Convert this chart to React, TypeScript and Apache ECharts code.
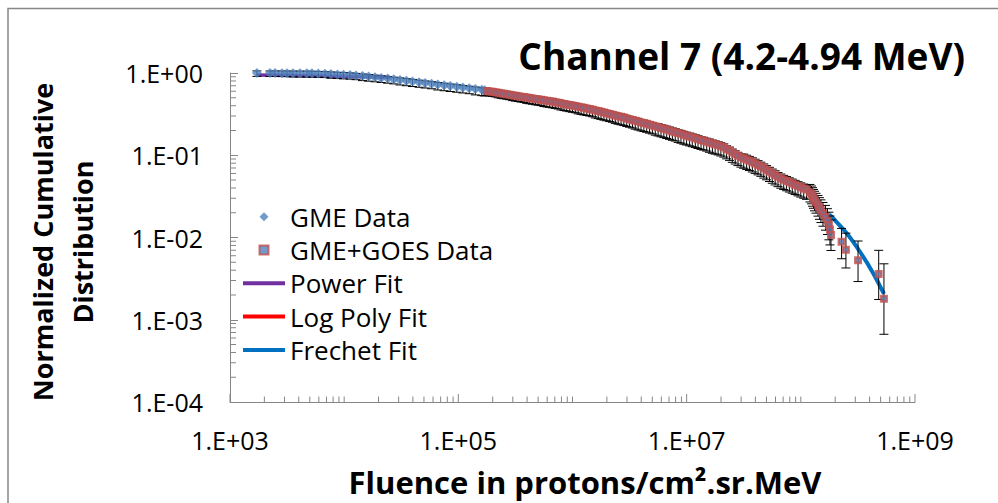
import React, { useEffect, useRef } from "react";
import * as echarts from "echarts";

// ---------- data ----------
const gmeFluence = [
  1720, 2240, 2480, 2850, 3160, 3560, 4100, 4720, 5220, 5940, 6790, 7650, 8730, 9870,
  11250, 12700, 14480, 16380, 18650, 21100, 24050, 27200, 30850, 35100, 39700, 45300,
  51200, 58300, 66000, 75100, 85000, 96800, 109500, 124700, 141000, 160500, 170000,
];
const gmeCumulative = [
  1.0, 0.998, 0.997, 0.996, 0.995, 0.994, 0.993, 0.992, 0.99, 0.986, 0.978, 0.97, 0.962, 0.954,
  0.946, 0.932, 0.918, 0.904, 0.888, 0.871, 0.855, 0.838, 0.822, 0.805, 0.788, 0.771,
  0.755, 0.739, 0.723, 0.708, 0.693, 0.679, 0.665, 0.651, 0.637, 0.624, 0.618,
];
const gmeErrLowPct = [
  9, 9, 9, 9, 9, 10, 10, 10, 10, 10, 10, 11, 11, 11, 11, 11, 12, 12, 12, 12, 12, 12, 13, 13, 13,
  13, 13, 13, 14, 14, 14, 14, 14, 14, 15, 15, 15,
];
const gmeErrHighPct = [
  6, 6, 6, 6, 6, 6, 6, 6, 6, 6, 6, 6, 6, 6, 6, 6, 6, 6, 6, 6, 6, 6, 6, 6, 6, 6, 6, 6, 6, 6, 6, 6,
  6, 6, 6, 6, 6,
];

const goesFluence = [
  177800, 188900, 199100, 211800, 223500, 237600, 250700, 266500, 281300, 299000,
  315800, 335400, 354300, 376300, 397600, 422200, 446200, 473700, 500600, 531400,
  561800, 596200, 630400, 668900, 707400, 750500, 793600, 842100, 890500, 944800,
  999000, 1.06e6, 1.121e6, 1.19e6, 1.258e6, 1.335e6, 1.412e6, 1.497e6, 1.584e6, 1.68e6,
  1.777e6, 1.885e6, 1.994e6, 2.115e6, 2.238e6, 2.372e6, 2.511e6, 2.662e6, 2.817e6, 2.986e6,
  3.161e6, 3.351e6, 3.547e6, 3.759e6, 3.98e6, 4.218e6, 4.466e6, 4.733e6, 5.011e6, 5.31e6,
  5.622e6, 5.958e6, 6.309e6, 6.684e6, 7.079e6, 7.5e6, 7.942e6, 8.415e6, 8.912e6, 9.442e6,
  9.985e6, 1.061e7, 1.12e7, 1.191e7, 1.257e7, 1.336e7, 1.411e7, 1.498e7, 1.583e7, 1.681e7,
  1.776e7, 1.886e7, 1.993e7, 2.116e7, 2.237e7, 2.373e7, 2.51e7, 2.663e7, 2.816e7, 2.987e7,
  3.16e7, 3.352e7, 3.546e7, 3.76e7, 3.979e7, 4.219e7, 4.465e7, 4.734e7, 5.01e7, 5.311e7,
  5.621e7, 5.959e7, 6.308e7, 6.685e7, 7.078e7, 7.501e7, 7.941e7, 8.416e7, 8.911e7, 9.443e7,
  9.99e7, 1.06e8, 1.121e8,
  1.202e8, 1.239e8, 1.265e8, 1.291e8, 1.318e8, 1.358e8, 1.413e8, 1.455e8, 1.5e8, 1.563e8,
  1.644e8, 1.71e8, 1.762e8, 1.799e8, 1.837e8, 2.275e8, 2.483e8, 3.17e8, 4.808e8, 5.346e8,
];
const goesCumulative = [
  0.606, 0.597, 0.59, 0.582, 0.574, 0.566, 0.559, 0.552, 0.544, 0.537,
  0.53, 0.523, 0.516, 0.51, 0.503, 0.497, 0.491, 0.484, 0.478, 0.472,
  0.466, 0.46, 0.455, 0.449, 0.442, 0.435, 0.428, 0.421, 0.415, 0.408,
  0.402, 0.396, 0.389, 0.383, 0.377, 0.371, 0.366, 0.358, 0.351, 0.344,
  0.337, 0.33, 0.324, 0.317, 0.311, 0.305, 0.298, 0.293, 0.287, 0.28,
  0.274, 0.268, 0.263, 0.257, 0.251, 0.246, 0.241, 0.235, 0.23, 0.225,
  0.22, 0.215, 0.21, 0.205, 0.2, 0.195, 0.191, 0.186, 0.182, 0.177,
  0.173, 0.169, 0.165, 0.161, 0.157, 0.153, 0.15, 0.146, 0.143, 0.139,
  0.136, 0.133, 0.129, 0.125, 0.119, 0.114, 0.108, 0.103, 0.0985, 0.0943,
  0.0914, 0.0885, 0.0857, 0.0824, 0.0792, 0.076, 0.0729, 0.0694, 0.0662, 0.0631,
  0.0601, 0.0573, 0.0546, 0.0523, 0.0504, 0.0487, 0.047, 0.0454, 0.0438, 0.0422,
  0.0408, 0.0395, 0.0383,
  0.0356, 0.0338, 0.032, 0.0302, 0.0285, 0.0267, 0.0249, 0.0231, 0.0214, 0.0196,
  0.0178, 0.016, 0.0142, 0.0125, 0.0107, 0.0089, 0.0071, 0.0053, 0.0036, 0.0018,
];
const goesErrLowPct = [
  12, 12, 12, 12, 13, 13, 13, 13, 13, 14,
  14, 14, 14, 14, 15, 15, 15, 15, 15, 15,
  16, 16, 16, 16, 16, 16, 17, 17, 17, 17,
  17, 17, 18, 18, 18, 18, 18, 18, 19, 19,
  19, 19, 19, 19, 19, 20, 20, 20, 20, 20,
  20, 20, 21, 21, 21, 21, 21, 21, 21, 22,
  22, 22, 22, 22, 22, 22, 22, 23, 23, 23,
  23, 23, 23, 23, 23, 23, 23, 23, 24, 24,
  24, 24, 24, 24, 24, 24, 24, 24, 24, 24,
  24, 24, 24, 24, 24, 24, 24, 24, 24, 24,
  24, 24, 24, 24, 24, 24, 24, 24, 24, 24,
  24, 24, 24,
  24, 24, 25, 25, 26, 26, 27, 28, 29, 30, 31, 32, 34, 35, 35, 38, 40, 45, 51, 63,
];
const goesErrHighPct = [
  8, 8, 8, 8, 8, 8, 8, 8, 8, 8,
  8, 8, 8, 8, 8, 8, 8, 8, 8, 8,
  8, 8, 8, 8, 8, 8, 8, 8, 8, 8,
  8, 8, 8, 8, 8, 8, 8, 8, 8, 8,
  8, 8, 8, 8, 8, 8, 8, 8, 8, 8,
  8, 8, 8, 8, 8, 8, 8, 8, 8, 8,
  10, 10, 10, 10, 10, 10, 10, 10, 10, 10,
  10, 10, 10, 10, 10, 10, 10, 10, 10, 10,
  10, 10, 10, 10, 10, 10, 10, 10, 10, 10,
  13, 13, 13, 13, 13, 13, 13, 13, 13, 13,
  13, 13, 13, 13, 13, 13, 13, 13, 13, 13,
  13, 13, 13,
  24, 25, 26, 27, 28, 29, 30, 32, 34, 36, 38, 40, 43, 46, 53, 45, 59, 71, 94, 166,
];

const powerFitX = [1720, 25000];
const powerFitY = [0.946, 0.89];
const logPolyFitX = [1.8e5, 5.6e5, 1.78e6, 5.6e6, 1.78e7, 3.55e7, 6.3e7, 1.0e8, 1.25e8];
const logPolyFitY = [0.604, 0.467, 0.337, 0.22, 0.136, 0.083, 0.0547, 0.0408, 0.0345];
const frechetFitX = [1.778e8, 1.923e8, 2.523e8, 3.296e8, 4.315e8, 5.346e8];
const frechetFitY = [0.019, 0.0171, 0.01125, 0.00671, 0.00366, 0.00206];

const xAxisRange = [1e3, 1e9];
const yAxisRange = [1e-4, 1];
const xLabelledTicks = [1e3, 1e5, 1e7, 1e9];
const xMinorTickValues = [
  2e3, 3e3, 4e3, 5e3, 6e3, 7e3, 8e3, 9e3, 1e4,
  2e4, 3e4, 4e4, 5e4, 6e4, 7e4, 8e4, 9e4,
  2e5, 3e5, 4e5, 5e5, 6e5, 7e5, 8e5, 9e5, 1e6,
  2e6, 3e6, 4e6, 5e6, 6e6, 7e6, 8e6, 9e6,
  2e7, 3e7, 4e7, 5e7, 6e7, 7e7, 8e7, 9e7, 1e8,
  2e8, 3e8, 4e8, 5e8, 6e8, 7e8, 8e8, 9e8,
];
const yMinorTickValues = [
  2e-4, 3e-4, 4e-4, 5e-4, 6e-4, 7e-4, 8e-4, 9e-4,
  2e-3, 3e-3, 4e-3, 5e-3, 6e-3, 7e-3, 8e-3, 9e-3,
  0.02, 0.03, 0.04, 0.05, 0.06, 0.07, 0.08, 0.09,
  0.2, 0.3, 0.4, 0.5, 0.6, 0.7, 0.8, 0.9,
];

const FONT = '"Open Sans", "Liberation Sans", sans-serif';
const AXIS_GRAY = "#868686";

function expLabel(v: number): string {
  const e = Math.round(Math.log10(v));
  const sign = e < 0 ? "-" : "+";
  const a = Math.abs(e);
  return "1.E" + sign + (a < 10 ? "0" + a : String(a));
}
function xExpLabel(v: number): string {
  const e = Math.round(Math.log10(v));
  return e % 2 === 0 ? "" : expLabel(v);
}

export default function App() {
  const ref = useRef<HTMLDivElement>(null);

  useEffect(() => {
    const chart = echarts.init(ref.current as HTMLDivElement, null, { renderer: "svg" });
    const zip = (xs: number[], ys: number[]) => xs.map((x, i) => [x, ys[i]]);
    const errData = (xs: number[], ys: number[], lo: number[], hi: number[]) =>
      xs.map((x, i) => [x, ys[i], ys[i] * (1 - (lo[i] ?? 15) / 100), ys[i] * (1 + (hi[i] ?? 8) / 100)]);

    const renderErr = (_p: any, api: any) => {
      const x = api.value(0);
      const a = api.coord([x, api.value(2)]);
      const b = api.coord([x, api.value(3)]);
      const w = 4.5;
      const st = { stroke: "#000", lineWidth: 1 };
      return {
        type: "group",
        children: [
          { type: "line", shape: { x1: a[0], y1: a[1], x2: b[0], y2: b[1] }, style: st },
          { type: "line", shape: { x1: a[0] - w, y1: a[1], x2: a[0] + w, y2: a[1] }, style: st },
          { type: "line", shape: { x1: b[0] - w, y1: b[1], x2: b[0] + w, y2: b[1] }, style: st },
        ],
      };
    };
    const renderXTick = (_p: any, api: any) => {
      const pt = api.coord([api.value(0), api.value(1)]);
      const len = api.value(2);
      return {
        type: "line",
        shape: { x1: pt[0], y1: pt[1], x2: pt[0], y2: pt[1] - len },
        style: { stroke: AXIS_GRAY, lineWidth: 1 },
      };
    };
    const renderYMinor = (_p: any, api: any) => {
      const pt = api.coord([api.value(0), api.value(1)]);
      return {
        type: "line",
        shape: { x1: pt[0], y1: pt[1], x2: pt[0] + 6, y2: pt[1] },
        style: { stroke: AXIS_GRAY, lineWidth: 1 },
      };
    };

    const option: any = {
      animation: false,
      backgroundColor: "#fff",
      title: {
        text: "Channel 7 (4.2-4.94 MeV)",
        right: 33,
        top: 33,
        padding: 0,
        textStyle: { fontFamily: FONT, fontWeight: "bold", fontSize: 37, color: "#000", lineHeight: 44 },
      },
      legend: {
        orient: "vertical",
        left: 243,
        top: 203.7,
        padding: 0,
        itemWidth: 42,
        itemHeight: 9,
        itemGap: 7.3,
        selectedMode: false,
        symbolKeepAspect: true,
        textStyle: { fontFamily: FONT, fontSize: 26, color: "#000", lineHeight: 26 },
        data: [
          { name: "GME Data", icon: "path://M4,0L8,4L4,8L0,4Z" },
          { name: "GME+GOES Data", icon: "path://M0,0H8V8H0Z" },
          { name: "Power Fit", icon: "path://M0,0H42V4H0Z" },
          { name: "Log Poly Fit", icon: "path://M0,0H42V4H0Z" },
          { name: "Frechet Fit", icon: "path://M0,0H42V4H0Z" },
        ],
      },
      grid: { left: 230, right: 83, top: 73, bottom: 101 },
      xAxis: {
        type: "log",
        logBase: 10,
        min: xAxisRange[0],
        max: xAxisRange[1],
        splitNumber: 6,
        axisLine: { show: true, lineStyle: { color: AXIS_GRAY, width: 1 } },
        axisTick: { show: false },
        axisLabel: { formatter: xExpLabel, color: "#000", fontFamily: FONT, fontSize: 25, margin: 25 },
        splitLine: { show: false },
      },
      yAxis: {
        type: "log",
        logBase: 10,
        min: yAxisRange[0],
        max: yAxisRange[1],
        splitNumber: 4,
        axisLine: { show: true, lineStyle: { color: AXIS_GRAY, width: 1 } },
        axisTick: { show: true, inside: true, length: 8, lineStyle: { color: AXIS_GRAY } },
        axisLabel: { formatter: expLabel, color: "#000", fontFamily: FONT, fontSize: 25, margin: 27 },
        splitLine: { show: false },
      },
      graphic: [
        {
          type: "rect",
          silent: true,
          shape: { x: 8, y: 8.5, width: 1200, height: 800 },
          style: { fill: "rgba(0,0,0,0)", stroke: AXIS_GRAY, lineWidth: 1.5 },
        },
        {
          type: "text",
          x: 62,
          y: 242,
          rotation: Math.PI / 2,
          style: {
            text: "Normalized Cumulative\nDistribution",
            fontFamily: FONT,
            fontWeight: "bold",
            fontSize: 27,
            lineHeight: 40,
            align: "center",
            verticalAlign: "middle",
            fill: "#000",
          },
        },
        {
          type: "text",
          x: 585,
          y: 482,
          style: {
            text: "Fluence in protons/cm\u00B2.sr.MeV",
            fontFamily: FONT,
            fontWeight: "bold",
            fontSize: 31,
            align: "center",
            verticalAlign: "middle",
            fill: "#000",
          },
        },
      ],
      series: [
        {
          name: "xTicks",
          type: "custom",
          silent: true,
          renderItem: renderXTick,
          data: xLabelledTicks
            .map((v) => [v, yAxisRange[0], 8])
            .concat(xMinorTickValues.map((v) => [v, yAxisRange[0], 5.5])),
          z: 1,
        },
        {
          name: "yMinorTicks",
          type: "custom",
          silent: true,
          renderItem: renderYMinor,
          data: yMinorTickValues.map((v) => [xAxisRange[0], v]),
          z: 1,
        },
        {
          name: "Power Fit",
          type: "line",
          data: zip(powerFitX, powerFitY),
          showSymbol: false,
          symbol: "none",
          lineStyle: { color: "#7030A0", width: 3.5 },
          itemStyle: { color: "#7030A0" },
          z: 2,
        },
        {
          name: "Log Poly Fit",
          type: "line",
          smooth: 0.3,
          data: zip(logPolyFitX, logPolyFitY),
          showSymbol: false,
          symbol: "none",
          lineStyle: { color: "#FF0000", width: 3.5 },
          itemStyle: { color: "#FF0000" },
          z: 2,
        },
        {
          name: "Frechet Fit",
          type: "line",
          smooth: 0.3,
          data: zip(frechetFitX, frechetFitY),
          showSymbol: false,
          symbol: "none",
          lineStyle: { color: "#0070C0", width: 4 },
          itemStyle: { color: "#0070C0" },
          z: 2,
        },
        {
          name: "gmeErr",
          type: "custom",
          silent: true,
          renderItem: renderErr,
          encode: { x: 0, y: 1 },
          data: errData(gmeFluence, gmeCumulative, gmeErrLowPct, gmeErrHighPct),
          z: 3,
        },
        {
          name: "goesErr",
          type: "custom",
          silent: true,
          renderItem: renderErr,
          encode: { x: 0, y: 1 },
          data: errData(goesFluence, goesCumulative, goesErrLowPct, goesErrHighPct),
          z: 3,
        },
        {
          name: "GME Data",
          type: "scatter",
          symbol: "diamond",
          symbolSize: 10,
          itemStyle: { color: "#4F81BD" },
          data: zip(gmeFluence, gmeCumulative),
          z: 4,
        },
        {
          name: "GME+GOES Data",
          type: "scatter",
          symbol: "rect",
          symbolSize: 5.5,
          itemStyle: { color: "#4F81BD", borderColor: "#C0504D", borderWidth: 2.5 },
          data: zip(goesFluence, goesCumulative),
          z: 4,
        },
      ],
    };

    chart.setOption(option);
    return () => chart.dispose();
  }, []);

  return (
    <div
      ref={ref}
      style={{ position: "fixed", left: 0, top: 0, width: 998, height: 503, background: "#fff" }}
    />
  );
}
